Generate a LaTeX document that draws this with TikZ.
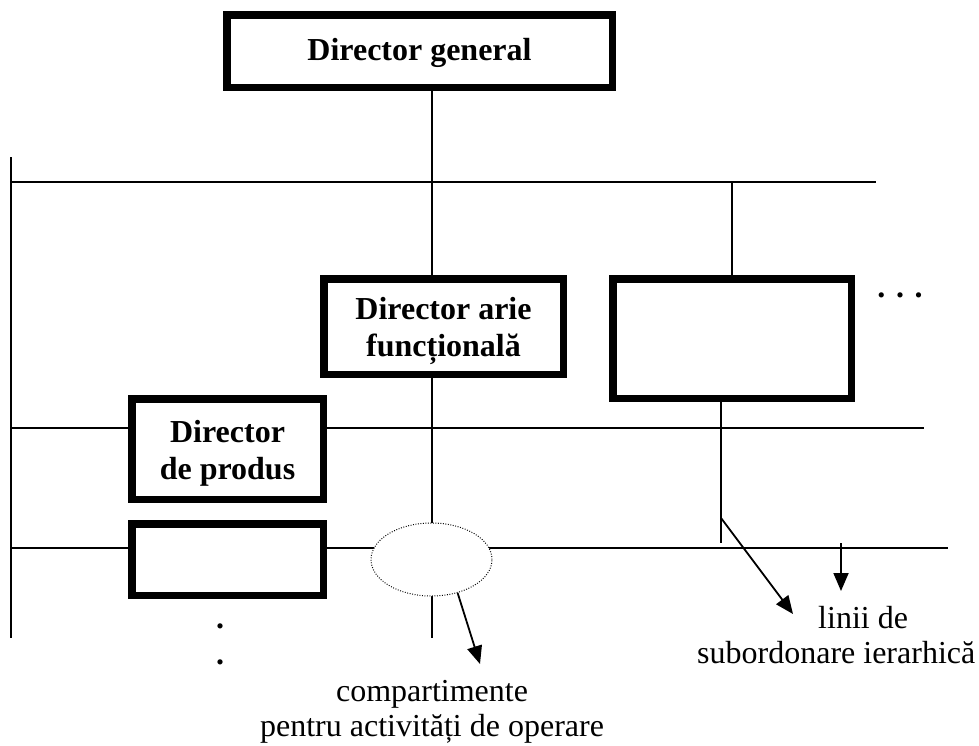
\documentclass[tikz,border=0pt]{standalone}
\usepackage{fontspec}
\setmainfont{Liberation Serif}
\usetikzlibrary{arrows.meta,shapes.geometric,backgrounds}
\begin{document}
\begin{tikzpicture}[x=1pt,y=-1pt,
  box/.style={draw, fill=white, line width=7.5pt, rectangle, inner sep=0pt, outer sep=0pt,
    font=\bfseries\fontsize{32}{37}\selectfont, align=center},
  wire/.style={line width=1.8pt},
  pointer/.style={line width=1.8pt, -{Triangle[length=18pt,width=15pt]}},
  caption/.style={font=\fontsize{32}{35}\selectfont, inner sep=0pt}
]
\useasboundingbox (0,0) rectangle (979,745);

% boxes
\node[box, minimum width=385.5pt, minimum height=72.5pt] (gen) at (419.5,51)
  {\rule{0pt}{26pt}Director general};
\node[box, minimum width=239.5pt, minimum height=95.5pt] (arie) at (443.5,326.5)
  {\rule{0pt}{32pt}Director arie\\funcțională};
\node[box, minimum width=238.5pt, minimum height=119.5pt] (rbox) at (732,338.5) {};
\node[box, minimum width=191.5pt, minimum height=100.5pt] (prod) at (227.5,449)
  {\rule{0pt}{30pt}Director\\de produs};
\node[box, minimum width=191.5pt, minimum height=71.5pt] (op1) at (227.5,559.5) {};

% operating compartment
\node[draw, fill=white, ellipse, line width=1pt, dash pattern=on 0.9pt off 1.6pt,
  minimum width=121pt, minimum height=73pt, inner sep=0pt] (ops) at (431.5,559.5) {};

% free ends of the lines
\coordinate (h1w) at (11,182);
\coordinate (h1e) at (876,182);
\coordinate (vtop) at (11,157);
\coordinate (vbot) at (11,638);
\coordinate (spine) at (432,638);
\coordinate (l2w) at (11,428);
\coordinate (l2e) at (924,428);
\coordinate (l3w) at (11,548);
\coordinate (l3e) at (948,548);
\coordinate (rdrop) at (721,543);
\coordinate (rbend) at (721,518);

\begin{scope}[on background layer]
  \draw[wire] (vtop) -- (vbot);
  \draw[wire] (h1w) -- (h1e);
  \draw[wire] (gen.south -| spine) -- (spine);
  \draw[wire] (rbox.north |- h1e) -- (rbox.north);
  \draw[wire] (rbox.south -| rdrop) -- (rdrop);
  \draw[wire] (l2w) -- (prod.west |- l2w) (prod.east |- l2e) -- (l2e);
  \draw[wire] (l3w) -- (op1.west |- l3w) (op1.east |- l3e) -- (l3e);
\end{scope}

% labels
\node[caption, font=\bfseries\fontsize{32}{35}\selectfont, anchor=base] (more) at (900,297) {.\,\,.\,\,.};
\node[caption, font=\bfseries\fontsize{32}{36}\selectfont, align=center] (cont) at (220,644) {.\\.};
\node[caption, align=center] (opslbl) at (432,712)
  {compartimente\\pentru activități de operare};
\node[caption, align=left, anchor=west] (hier) at (697,635)
  {\hspace*{121pt}linii de\\subordonare ierarhică};

% pointers
\coordinate (opsTip) at (480,664);
\coordinate (hierTip) at (793,614);
\coordinate (shortTop) at (841,543);
\coordinate (shortTip) at (841,591);
\draw[pointer] (ops.-52) -- (opsTip);
\draw[pointer] (rbend) -- (hierTip);
\draw[pointer] (shortTop) -- (shortTip);
\end{tikzpicture}
\end{document}
